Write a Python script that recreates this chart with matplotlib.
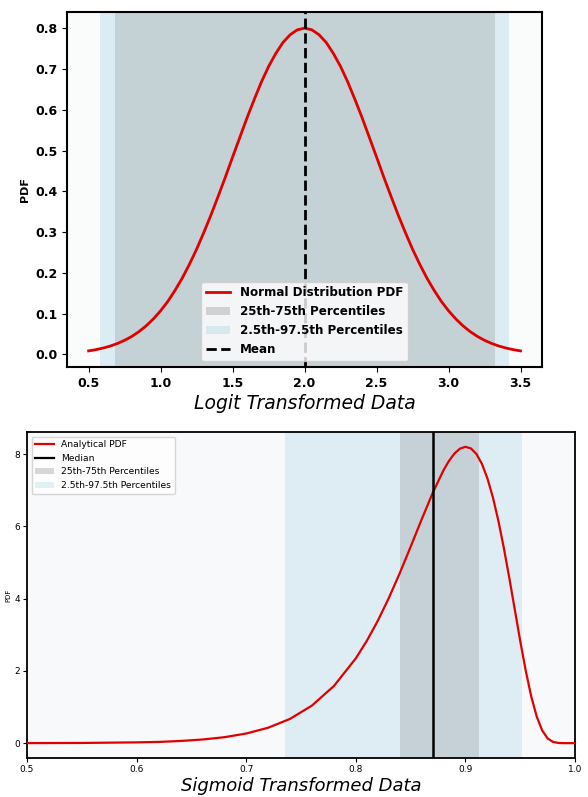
import numpy as np
import matplotlib
matplotlib.use('Agg')
import matplotlib.pyplot as plt
from matplotlib.lines import Line2D
from matplotlib.patches import Patch

# logit space: normal pdf sampled every 0.05 from 0.5 to 3.5
logit_pdf = [0.0087, 0.0117, 0.0156, 0.0205, 0.0268, 0.0346, 0.0442, 0.0560, 0.0702, 0.0872,
             0.107, 0.130, 0.157, 0.187, 0.221, 0.258, 0.299, 0.342, 0.388, 0.435,
             0.484, 0.532, 0.580, 0.625, 0.668, 0.706, 0.738, 0.765, 0.784, 0.796,
             0.800,
             0.796, 0.784, 0.765, 0.738, 0.706, 0.668, 0.625, 0.580, 0.532, 0.484,
             0.435, 0.388, 0.342, 0.299, 0.258, 0.221, 0.187, 0.157, 0.130, 0.107,
             0.0872, 0.0702, 0.0560, 0.0442, 0.0346, 0.0268, 0.0205, 0.0156, 0.0117, 0.0087]
logit_x = np.linspace(0.5, 3.5, len(logit_pdf))
logit_mean = 2.0
logit_iqr = (0.68, 3.32)
logit_95 = (0.58, 3.42)

# sigmoid space: analytical pdf
sig_x = [0.50, 0.55, 0.60, 0.62, 0.64, 0.66, 0.68, 0.70, 0.72, 0.74, 0.76, 0.78, 0.80,
         0.81, 0.82, 0.83, 0.84, 0.85, 0.86, 0.87, 0.88, 0.885, 0.89, 0.895, 0.90, 0.905,
         0.91, 0.915, 0.92, 0.925, 0.93, 0.935, 0.94, 0.945, 0.95, 0.955, 0.96, 0.965,
         0.97, 0.975, 0.98, 0.985, 0.99, 1.0]
sig_pdf = [0.001, 0.005, 0.021, 0.033, 0.060, 0.100, 0.164, 0.266, 0.426, 0.672, 1.041, 1.582, 2.348,
           2.831, 3.386, 4.011, 4.700, 5.436, 6.190, 6.918, 7.555, 7.814, 8.017, 8.151, 8.202, 8.156,
           8.003, 7.730, 7.331, 6.805, 6.157, 5.404, 4.572, 3.696, 2.822, 2.004, 1.295, 0.737,
           0.351, 0.129, 0.032, 0.004, 0.000, 0.000]
sig_median = 0.870
sig_iqr = (0.840, 0.912)
sig_95 = (0.735, 0.952)

fig = plt.figure(figsize=(5.88, 7.97), dpi=100)

# ---- top panel ----
ax1 = fig.add_axes([0.114, 0.5395, 0.808, 0.4454])
ax1.set_facecolor('#fafbfb')
ax1.plot(logit_x, logit_pdf, color='#e00000', lw=2, zorder=3)
ax1.axvspan(*logit_95, color='lightblue', alpha=0.4, lw=0, zorder=1)
ax1.axvspan(*logit_iqr, color='grey', alpha=0.25, lw=0, zorder=2)
ax1.axvline(logit_mean, color='black', ls='--', lw=2, zorder=4)
ax1.set_xticks([0.5, 1.0, 1.5, 2.0, 2.5, 3.0, 3.5])
for lbl in ax1.get_xticklabels() + ax1.get_yticklabels():
    lbl.set_fontsize(9)
    lbl.set_fontweight('semibold')
ax1.set_ylabel('PDF', fontsize=8, fontweight='semibold')
ax1.set_xlabel('Logit Transformed Data', fontsize=13.5, style='italic', labelpad=3)
for s in ax1.spines.values():
    s.set_linewidth(1.5)
handles1 = [Line2D([], [], color='#e00000', lw=2),
            Patch(color='grey', alpha=0.3, lw=0),
            Patch(color='lightblue', alpha=0.4, lw=0),
            Line2D([], [], color='black', ls='--', lw=2)]
labels1 = ['Normal Distribution PDF', '25th-75th Percentiles',
           '2.5th-97.5th Percentiles', 'Mean']
ax1.legend(handles1, labels1, loc='lower center', prop={'weight': 'semibold', 'size': 8.6})

# ---- bottom panel ----
ax2 = fig.add_axes([0.046, 0.049, 0.932, 0.409])
ax2.set_facecolor('#f8f9fa')
ax2.plot(sig_x, sig_pdf, color='#e00000', lw=1.6, zorder=3)
ax2.axvspan(*sig_95, color='lightblue', alpha=0.35, lw=0, zorder=1)
ax2.axvspan(*sig_iqr, color='grey', alpha=0.25, lw=0, zorder=2)
ax2.axvline(sig_median, color='black', lw=1.8, zorder=4)
ax2.set_xlim(0.5, 1.0)
ax2.set_yticks([0, 2, 4, 6, 8])
ax2.tick_params(labelsize=6.5, length=3, pad=2)
ax2.set_ylabel('PDF', fontsize=5, labelpad=2)
ax2.set_xlabel('Sigmoid Transformed Data', fontsize=13, style='italic', labelpad=2)
for s in ax2.spines.values():
    s.set_linewidth(1.3)
handles2 = [Line2D([], [], color='#e00000', lw=1.6),
            Line2D([], [], color='black', lw=1.6),
            Patch(color='grey', alpha=0.3, lw=0),
            Patch(color='lightblue', alpha=0.35, lw=0)]
labels2 = ['Analytical PDF', 'Median', '25th-75th Percentiles', '2.5th-97.5th Percentiles']
ax2.legend(handles2, labels2, loc='upper left', fontsize=6.6)

fig.savefig('out.png', dpi=100)
